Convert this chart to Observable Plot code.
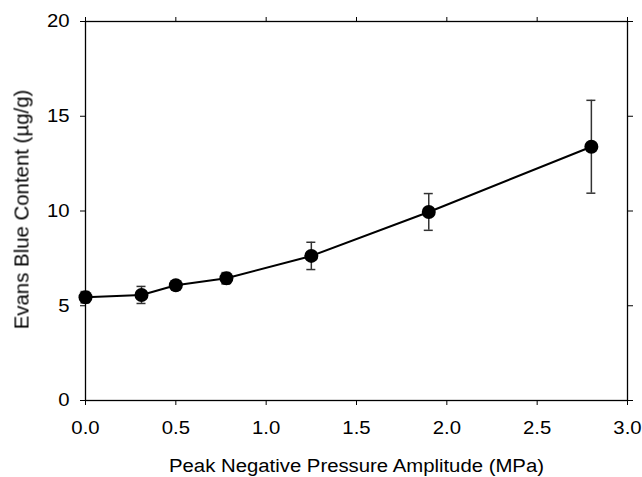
<!DOCTYPE html>
<html>
<head>
<meta charset="utf-8">
<script src="https://cdn.jsdelivr.net/npm/d3@7"></script>
<script src="https://cdn.jsdelivr.net/npm/@observablehq/plot@0.6"></script>
<style>
  html, body { margin: 0; padding: 0; background: #fff; }
  g.ytitle { opacity: 0.999; will-change: transform; }
</style>
</head>
<body>
<div id="chart"></div>
<script>
const pressure = [0.0, 0.31, 0.5, 0.78, 1.25, 1.9, 2.8];
const content = [5.45, 5.57, 6.08, 6.45, 7.63, 9.95, 13.39];
const errorSd = [0.3, 0.45, 0.2, 0.3, 0.72, 0.97, 2.45];
const xTicks = [0, 0.5, 1.0, 1.5, 2.0, 2.5, 3.0];
const yTicks = [0, 5, 10, 15, 20];
const xTitle = "Peak Negative Pressure Amplitude (MPa)";
const yTitle = "Evans Blue Content (µg/g)";

const data = pressure.map((p, i) => ({x: p, y: content[i], lo: content[i] - errorSd[i], hi: content[i] + errorSd[i]}));

const font = "'Liberation Sans', Arial, sans-serif";
const fs = 18;

const chart = Plot.plot({
  width: 642,
  height: 477,
  marginLeft: 85,
  marginRight: 15,
  marginTop: 21,
  marginBottom: 77,
  style: {fontFamily: font, fontSize: fs + "px", color: "#000", background: "#fff"},
  x: {type: "linear", domain: [0, 3]},
  y: {type: "linear", domain: [0, 20]},
  marks: [
    Plot.axisX({anchor: "bottom", ticks: xTicks, tickFormat: d3.format(".1f"), tickSize: 5, tickPadding: 16,
      label: null, fontSize: fs, className: "stretch"}),
    Plot.axisX({anchor: "top", ticks: xTicks, tickFormat: () => "", tickSize: 5, label: null}),
    Plot.axisY({anchor: "left", ticks: yTicks, tickSize: 5, tickPadding: 11, tickFormat: d3.format("d"),
      label: null, fontSize: fs, className: "stretch"}),
    Plot.axisY({anchor: "right", ticks: yTicks, tickFormat: () => "", tickSize: 5, label: null}),
    Plot.text([xTitle], {frameAnchor: "bottom", dy: 66, textAnchor: "middle", lineAnchor: "middle", fontSize: fs, fill: "#000", className: "stretch"}),
    Plot.text([yTitle], {frameAnchor: "left", dx: -64, dy: -1.5, rotate: -90, textAnchor: "middle", lineAnchor: "middle", fontSize: 20.4, fill: "#000", className: "ytitle"}),
    Plot.frame({stroke: "#000", strokeWidth: 1.3}),
    Plot.ruleX(data, {x: "x", y1: "lo", y2: "hi", stroke: "#333", strokeWidth: 1.5}),
    Plot.ruleY(data, {x1: "x", x2: "x", y: "lo", stroke: "#333", strokeWidth: 1.5, insetLeft: -4.5, insetRight: -4.5}),
    Plot.ruleY(data, {x1: "x", x2: "x", y: "hi", stroke: "#333", strokeWidth: 1.5, insetLeft: -4.5, insetRight: -4.5}),
    Plot.line(data, {x: "x", y: "y", stroke: "#000", strokeWidth: 2}),
    Plot.dot(data, {x: "x", y: "y", r: 7, fill: "#000", stroke: "none"})
  ]
});

// the reference typeface is noticeably wide: stretch glyphs along the text direction
chart.querySelectorAll("g.stretch text").forEach(t => {
  const tr = t.getAttribute("transform") || "";
  t.setAttribute("transform", tr + " scale(1.13,1)");
});
document.getElementById("chart").appendChild(chart);
</script>
</body>
</html>
